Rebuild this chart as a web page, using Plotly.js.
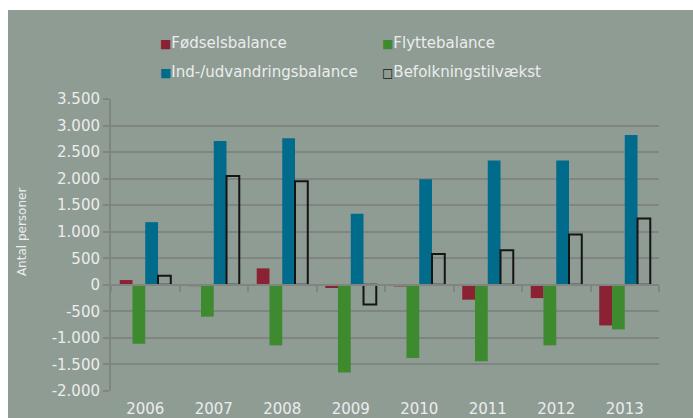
<!DOCTYPE html>
<html>
<head>
<meta charset="utf-8">
<script src="https://cdn.plot.ly/plotly-3.0.1.min.js"></script>
<style>
  html, body { margin: 0; padding: 0; background: #ffffff; width: 693px; height: 418px; overflow: hidden; }
  #chart { position: absolute; left: 8px; top: 10px; width: 685px; height: 408px; }
</style>
</head>
<body>
<div id="chart"></div>
<script>
// ---- data ----
const years = ['2006', '2007', '2008', '2009', '2010', '2011', '2012', '2013'];
const foedselsbalance = [90, -25, 310, -60, -30, -280, -250, -765];
const flyttebalance = [-1110, -600, -1140, -1650, -1380, -1440, -1140, -840];
const indUdvandringsbalance = [1180, 2710, 2760, 1340, 1990, 2340, 2340, 2820];
const befolkningstilvaekst = [170, 2050, 1950, -370, 580, 650, 950, 1250];
const seriesNames = ['Fødselsbalance', 'Flyttebalance', 'Ind-/udvandringsbalance', 'Befolkningstilvækst'];
const yTickVals = [-2000, -1500, -1000, -500, 0, 500, 1000, 1500, 2000, 2500, 3000, 3500];
const yTickText = ['-2.000', '-1.500', '-1.000', '-500', '0', '500', '1.000', '1.500', '2.000', '2.500', '3.000', '3.500'];
const yTitle = 'Antal personer';

// ---- styles ----
const FONT = 'DejaVu Sans, sans-serif';
const TXT = '#ececec';
const GRID = '#808581';
const colors = ['#8B2233', '#3E8B2F', '#006B8A', 'rgba(0,0,0,0)'];

const traces = [
  { type: 'bar', name: seriesNames[0], x: years, y: foedselsbalance, marker: { color: colors[0] } },
  { type: 'bar', name: seriesNames[1], x: years, y: flyttebalance, marker: { color: colors[1] } },
  { type: 'bar', name: seriesNames[2], x: years, y: indUdvandringsbalance, marker: { color: colors[2] } },
  { type: 'bar', name: seriesNames[3], x: years, y: befolkningstilvaekst,
    marker: { color: colors[3], line: { color: '#151515', width: 2 } } },
  { type: 'scatter', x: [], y: [], xaxis: 'x2', yaxis: 'y', showlegend: false, hoverinfo: 'skip' }
];

function legendText(i) {
  const sw = i === 3
    ? '<span style="color:#151515;font-size:12px">□</span>'
    : '<span style="color:' + colors[i] + ';font-size:12px">■</span>';
  return sw + seriesNames[i];
}

const legendPos = [
  { x: 0.0858, y: 1.192 },
  { x: 0.4909, y: 1.192 },
  { x: 0.0858, y: 1.091 },
  { x: 0.4909, y: 1.091 }
];

const annotations = seriesNames.map((n, i) => ({
  xref: 'paper', yref: 'paper', x: legendPos[i].x, y: legendPos[i].y,
  xanchor: 'left', yanchor: 'middle', showarrow: false,
  text: legendText(i), font: { family: FONT, size: 15, color: TXT }
}));
annotations.push({
  xref: 'paper', yref: 'paper', x: -0.162, y: 0.545, xanchor: 'center', yanchor: 'middle',
  showarrow: false, textangle: -90, text: yTitle, font: { family: FONT, size: 12, color: TXT }
});

const layout = {
  width: 685, height: 408,
  margin: { l: 103, r: 34, t: 89, b: 27, pad: 0 },
  paper_bgcolor: '#8E9C94',
  plot_bgcolor: '#8E9C94',
  showlegend: false,
  barmode: 'group',
  bargap: 0.255,
  bargroupgap: 0,
  font: { family: FONT, size: 15, color: TXT },
  xaxis: {
    type: 'category', showgrid: false, zeroline: false, showline: false,
    ticks: '', tickfont: { family: FONT, size: 15, color: TXT }, ticklabelstandoff: 7
  },
  xaxis2: {
    overlaying: 'x', anchor: 'free', position: 2000 / 5500,
    range: [-0.5, 7.5], tick0: -0.5, dtick: 1,
    showgrid: false, zeroline: false, showticklabels: false,
    showline: true, linecolor: GRID, linewidth: 2,
    ticks: 'outside', ticklen: 6, tickwidth: 2, tickcolor: GRID, layer: 'above traces'
  },
  yaxis: {
    range: [-2000, 3500], tickvals: yTickVals, ticktext: yTickText,
    showgrid: true, gridcolor: GRID, gridwidth: 2, zeroline: false,
    showline: true, linecolor: GRID, linewidth: 2,
    ticks: 'outside', ticklen: 6, tickwidth: 2, tickcolor: GRID,
    tickfont: { family: FONT, size: 15, color: TXT }
  },
  annotations: annotations
};

Plotly.newPlot('chart', traces, layout, { displayModeBar: false, staticPlot: true });
</script>
</body>
</html>
